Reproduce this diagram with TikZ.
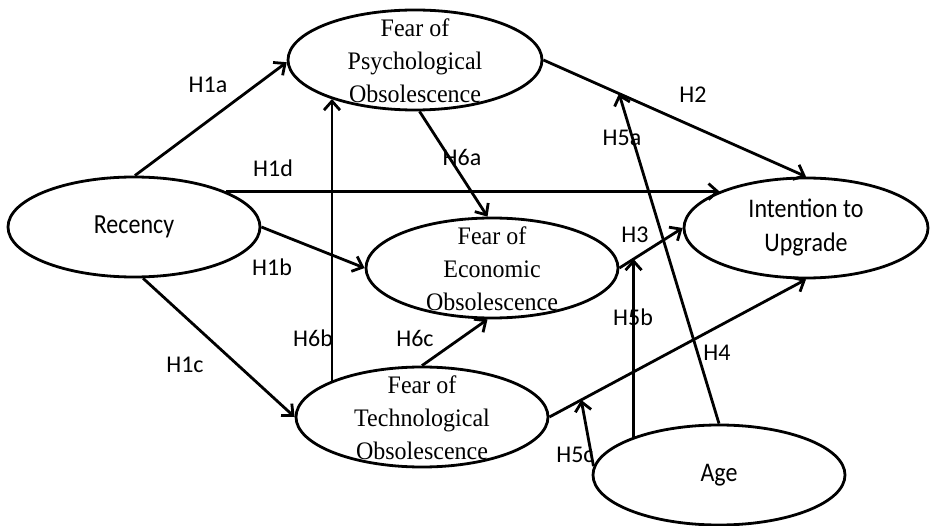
\documentclass[tikz,border=0pt]{standalone}
\usepackage{fontspec}
\usepackage{graphicx}
\setmainfont{Liberation Serif}
\newfontfamily\sansc{Carlito}
\usetikzlibrary{shapes.geometric,arrows.meta,calc}
\newcommand\vstretch[2]{\scalebox{1}[#1]{\begin{tabular}{@{}c@{}}#2\end{tabular}}}
\begin{document}
\begin{tikzpicture}[x=1pt,y=-1pt,
  ell/.style={draw, ellipse, line width=2.8pt, minimum width=252pt, minimum height=100pt, inner sep=0pt},
  serif/.style={align=center, inner sep=0pt, yshift=-3pt, font=\fontsize{24}{31}\selectfont},
  big/.style={align=center, inner sep=0pt, font=\sansc\fontsize{24}{30}\selectfont},
  sans/.style={align=center, inner sep=0pt, font=\sansc\fontsize{24}{33}\selectfont},
  arr/.style={line width=2.8pt, line join=round, -{Straight Barb[length=9pt,width=16pt]}},
]
\useasboundingbox (0,0) rectangle (931,526);

% ellipses
\node[ell, minimum width=254pt] (psy) at (415,60) {};
\node[ell] (rec) at (134,227) {};
\node[ell] (eco) at (492,268) {};
\node[ell, minimum width=244pt] (int) at (806,228) {};
\node[ell] (tec) at (422,417) {};
\node[ell] (age) at (719,475) {};

% texts
\node[serif] (psyT) at (psy) {\vstretch{1.05}{Fear of\\Psychological\\Obsolescence}};
\node[big] (recT) at (rec) {\vstretch{1.15}{Recency}};
\node[serif] (ecoT) at (eco) {\vstretch{1.05}{Fear of\\Economic\\Obsolescence}};
\node[big] (intT) at (int) {\vstretch{1.12}{Intention to\\Upgrade}};
\node[serif] (tecT) at (tec) {\vstretch{1.05}{Fear of\\Technological\\Obsolescence}};
\node[big] (ageT) at (age) {\vstretch{1.12}{Age}};

% connectors
\draw[arr] (rec.89) -- (psy.181);
\draw[arr] (rec.21) -- (int.157 |- rec.21);
\draw[arr] (rec.east) -- (eco.west);
\draw[arr] (rec.-80) -- (tec.west);
\draw[arr] (psy.east) -- (int.north);
\draw[arr] (psy.-85) -- (eco.95);
\draw[arr] (tec.north) -- (eco.265);
\draw[arr] (tec.158) -- (tec.158 |- psy.205);
\draw[arr] (eco.east) -- (int.west);
\draw[arr] (tec.east) -- (int.south);

\coordinate (h2p) at ($(psy.east)!0.288!(int.north)$);
\coordinate (h3p) at ($(eco.east)!0.224!(int.west)$);
\coordinate (h4p) at ($(tec.east)!0.124!(int.south)$);
\draw[arr] (age.north) -- (h2p);
\draw[arr] (h3p |- age.157) -- (h3p);
\draw[arr] (age.176) -- (h4p);

% hypothesis labels
\node[sans] (l1a) at (208,85) {H1a};
\node[sans] (l1d) at (273,168) {H1d};
\node[sans] (l1b) at (272,267) {H1b};
\node[sans] (l1c) at (185,365) {H1c};
\node[sans] (l2) at (693,95) {H2};
\node[sans] (l5a) at (622,138) {H5a};
\node[sans] (l6a) at (462,157) {H6a};
\node[sans] (l3) at (635,235) {H3};
\node[sans] (l5b) at (633,317) {H5b};
\node[sans] (l4) at (717,353) {H4};
\node[sans] (l6b) at (313,338) {H6b};
\node[sans] (l6c) at (415,338) {H6c};
\node[sans] (l5c) at (575,455) {H5c};
\end{tikzpicture}
\end{document}
